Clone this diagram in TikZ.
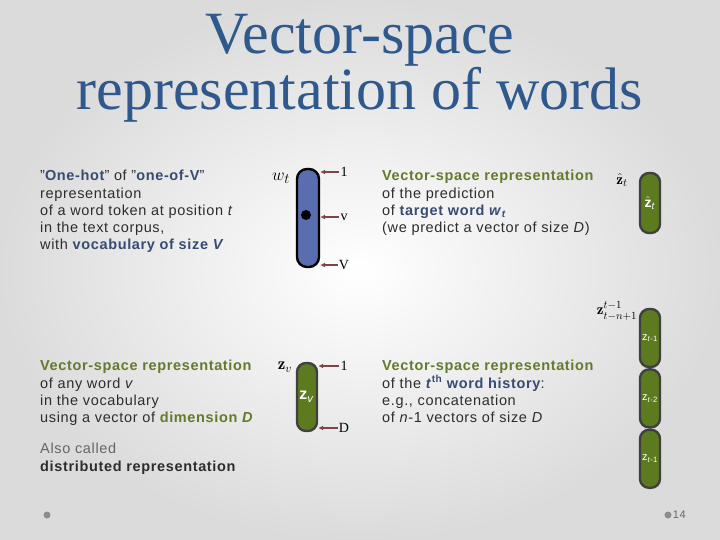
\documentclass[tikz,border=0pt]{standalone}
\usepackage{amsmath,amssymb}
\usepackage{fontspec}
\setsansfont{Liberation Sans}[LetterSpace=4.5]
\newfontfamily\idxfont{Liberation Serif}
\newfontfamily\titlefont{Liberation Serif}
\usepackage{tikz}
\usetikzlibrary{positioning, arrows.meta}

\definecolor{titleblue}{RGB}{47,88,140}
\definecolor{keyblue}{RGB}{55,75,115}
\definecolor{leafgreen}{RGB}{100,122,45}
\definecolor{vecblue}{RGB}{90,110,175}
\definecolor{vecgreen}{RGB}{92,122,30}
\definecolor{arrowred}{RGB}{125,70,70}
\definecolor{bodygray}{RGB}{45,45,45}

\begin{document}
\begin{tikzpicture}
	[x=1pt, y=-1pt, font=\sffamily,
	 onehot/.style={draw=black, line width=2.4pt, fill=vecblue, rounded corners=10pt,
	   minimum width=22pt, inner sep=0pt},
	 embed/.style={draw=black!75, line width=2.4pt, fill=vecgreen, rounded corners=9pt,
	   minimum width=20pt, inner sep=0pt, text=white},
	 idx/.style={font=\idxfont\fontsize{14}{14}\selectfont, inner sep=1pt},
	 pointer/.style={-{Latex[length=5pt,width=5pt]}, draw=arrowred, line width=1.5pt},
	 para/.style={anchor=north west, align=left, inner sep=0pt, text=bodygray,
	   font=\sffamily\fontsize{14.5}{17.3}\selectfont}]
   \useasboundingbox (0,0) rectangle (720,540);
   \shade[inner color=white, outer color=black!14] (0,0) rectangle (720,540);

   % title
   \node[anchor=north, align=center, inner sep=0pt, text=titleblue,
     font=\titlefont\fontsize{60}{55}\selectfont] (title) at (360,14) {Vector-space\\representation of words};

   % texts
   \node[para] (onehottxt) at (40,170) {"\textcolor{keyblue}{\bfseries One-hot}" of "\textcolor{keyblue}{\bfseries one-of-V}"\\
     representation\\ of a word token at position \textit{t}\\ in the text corpus,\\
     with \textcolor{keyblue}{\bfseries vocabulary of size \textit{V}}};
   \node[para] (predtxt) at (382,170) {\textcolor{leafgreen}{\bfseries Vector-space representation}\\
     of the prediction\\ of \textcolor{keyblue}{\bfseries target word \textit{w}\textsubscript{\textit{t}}}\\
     (we predict a vector of size \textit{D})};
   \node[para] (embtxt) at (40,360) {\textcolor{leafgreen}{\bfseries Vector-space representation}\\
     of any word \textit{v}\\ in the vocabulary\\
     using a vector of \textcolor{leafgreen}{\bfseries dimension \textit{D}}};
   \node[para] (alsotxt) at (40,443) {\textcolor{black!60}{Also called}\\ \textbf{distributed representation}};
   \node[para] (histtxt) at (382,360) {\textcolor{leafgreen}{\bfseries Vector-space representation}\\
     of the \textcolor{keyblue}{\bfseries\textit{t}\textsuperscript{th} word history}:\\
     e.g., concatenation\\ of \textit{n}-1 vectors of size \textit{D}};

   % one-hot vector
   \node[onehot, minimum height=98pt] (wt) at (308,218) {};
   \node[circle, fill=black, minimum size=10pt, inner sep=0pt] (hot) at (306,215) {};
   \node (wtlbl) at (281,178) {\fontsize{19}{19}\selectfont$w_t$};
   \node[idx] (w1) at (344,172) {1};
   \node[idx] (wv) at (344,217) {v};
   \node[idx] (wV) at (344,265) {V};
   \draw[pointer] (w1.west) -- (w1.west -| wt.east);
   \draw[pointer] (wv.west) -- (wv.west -| wt.east);
   \draw[pointer] (wV.west) -- (wV.west -| wt.east);

   % word embedding
   \node[embed, minimum height=68pt] (zv) at (307,397) {\bfseries\fontsize{16}{16}\selectfont z\textsubscript{\mdseries\textit{v}}};
   \node (zvlbl) at (285,367) {\fontsize{17}{17}\selectfont$\mathbf{z}_v$};
   \node[idx] (z1) at (344,366) {1};
   \node[idx] (zD) at (344,428) {D};
   \draw[pointer] (z1.west) -- (z1.west -| zv.east);
   \draw[pointer] (zD.west) -- (zD.west -| zv.east);

   % prediction
   \node[embed, minimum height=60pt] (zhat) at (650,203) {\bfseries\fontsize{14}{14}\selectfont$\hat{\text{z}}$\textsubscript{\mdseries\textit{t}}};
   \node (zhatlbl) at (622,180) {\fontsize{15}{15}\selectfont$\hat{\mathbf{z}}_t$};

   % history
   \node[embed, minimum height=58pt] (h1) at (650,338) {\fontsize{11}{11}\selectfont z\textsubscript{\textit{t}-1}};
   \node[embed, minimum height=58pt] (h2) [below=0pt of h1] {\fontsize{11}{11}\selectfont z\textsubscript{\textit{t}-2}};
   \node[embed, minimum height=58pt] (h3) [below=0pt of h2] {\fontsize{11}{11}\selectfont z\textsubscript{\textit{t}-1}};
   \node (histlbl) at (617,311) {\fontsize{15}{15}\selectfont$\mathbf{z}_{t-n+1}^{t-1}$};

   % footer
   \node[circle, fill=black!45, minimum size=7pt, inner sep=0pt] (dotl) at (47,515) {};
   \node[circle, fill=black!45, minimum size=7pt, inner sep=0pt] (dotr) at (668,515) {};
   \node[right=1pt of dotr, inner sep=0pt, text=black!60, font=\sffamily\fontsize{11}{11}\selectfont] (page) {14};
\end{tikzpicture}
\end{document}
